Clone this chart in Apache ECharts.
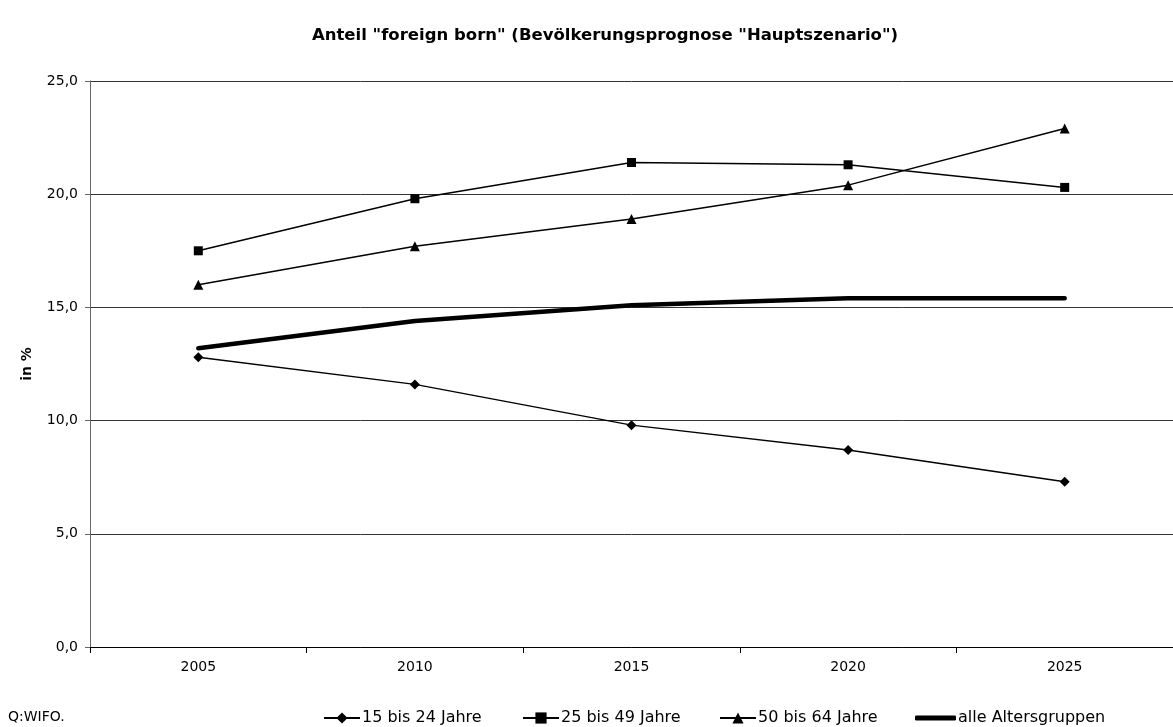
<!DOCTYPE html>
<html>
<head>
<meta charset="utf-8">
<script src="https://cdn.jsdelivr.net/npm/echarts@6/dist/echarts.min.js"></script>
<style>
html,body{margin:0;padding:0;background:#fff;}
#chart{width:1173px;height:727px;}
</style>
</head>
<body>
<div id="chart"></div>
<script>
const categories = ['2005', '2010', '2015', '2020', '2025'];
const seriesNames = ['15 bis 24 Jahre', '25 bis 49 Jahre', '50 bis 64 Jahre', 'alle Altersgruppen'];
const s15to24 = [12.8, 11.6, 9.8, 8.7, 7.3];
const s25to49 = [17.5, 19.8, 21.4, 21.3, 20.3];
const s50to64 = [16.0, 17.7, 18.9, 20.4, 22.9];
const sAlle = [13.2, 14.4, 15.1, 15.4, 15.4];
const yTicks = [0, 5, 10, 15, 20, 25];

const FONT = "'DejaVu Sans', 'Liberation Sans', sans-serif";
const chart = echarts.init(document.getElementById('chart'), null, {renderer: 'canvas'});

function legendAt(name, left, w, h, icon) {
  const l = {
    data: [name], left: left, top: 705, orient: 'horizontal',
    itemWidth: w, itemHeight: h, itemGap: 0,
    textStyle: {fontFamily: FONT, fontSize: 16, color: '#000', padding: [0, 0, 0, -3]}
  };
  if (icon) l.icon = icon;
  return l;
}

const option = {
  backgroundColor: '#fff',
  animation: false,
  title: {
    text: 'Anteil "foreign born" (Bevölkerungsprognose "Hauptszenario")',
    left: 600, top: 22, textAlign: 'center',
    textStyle: {fontFamily: FONT, fontSize: 16.5, fontWeight: 'bold', color: '#000'}
  },
  legend: [
    legendAt(seriesNames[0], 318, 36, 14),
    legendAt(seriesNames[1], 517, 36, 14),
    legendAt(seriesNames[2], 714, 36, 14),
    legendAt(seriesNames[3], 910, 41, 5, 'roundRect')
  ],
  grid: {left: 90, top: 81, width: 1094, height: 566, containLabel: false},
  xAxis: {
    type: 'category', data: categories, boundaryGap: true,
    axisLine: {lineStyle: {color: '#000', width: 1}},
    axisTick: {show: true, length: 6, lineStyle: {color: '#000'}},
    axisLabel: {fontFamily: FONT, fontSize: 14, color: '#000', margin: 13},
    splitLine: {show: false}
  },
  yAxis: {
    type: 'value', min: yTicks[0], max: yTicks[yTicks.length - 1], interval: 5,
    name: 'in %', nameLocation: 'middle', nameGap: 56, nameRotate: 90,
    nameTextStyle: {fontFamily: FONT, fontSize: 14, fontWeight: 'bold', color: '#000'},
    axisLine: {show: true, lineStyle: {color: '#666', width: 1}},
    axisTick: {show: true, length: 5, lineStyle: {color: '#666'}},
    axisLabel: {fontFamily: FONT, fontSize: 14, color: '#000', margin: 12,
      formatter: v => v.toFixed(1).replace('.', ',')},
    splitLine: {show: true, lineStyle: {color: '#333', width: 1}}
  },
  series: [
    {name: seriesNames[0], type: 'line', data: s15to24, symbol: 'diamond', symbolSize: 10,
      itemStyle: {color: '#000'}, lineStyle: {color: '#000', width: 1.5}},
    {name: seriesNames[1], type: 'line', data: s25to49, symbol: 'rect', symbolSize: 9,
      itemStyle: {color: '#000'}, lineStyle: {color: '#000', width: 1.5}},
    {name: seriesNames[2], type: 'line', data: s50to64, symbol: 'triangle', symbolSize: 10,
      itemStyle: {color: '#000'}, lineStyle: {color: '#000', width: 1.5}},
    {name: seriesNames[3], type: 'line', data: sAlle, symbol: 'none',
      itemStyle: {color: '#000'}, lineStyle: {color: '#000', width: 4.5, cap: 'round'}}
  ],
  graphic: [
    {type: 'text', left: 8, top: 710,
      style: {text: 'Q:WIFO.', fontFamily: FONT, fontSize: 14, fill: '#000'}}
  ]
};
chart.setOption(option);
</script>
</body>
</html>
